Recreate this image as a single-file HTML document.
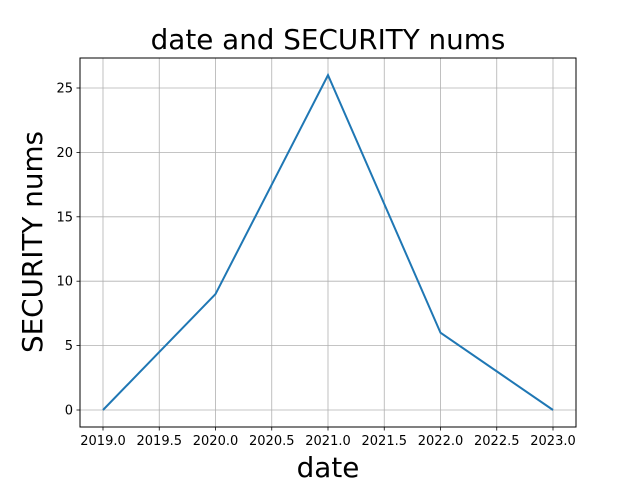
<!DOCTYPE html>
<html><head><meta charset="utf-8"><style>
body{margin:0;background:#fff;}
svg{display:block;font-family:"DejaVu Sans","Liberation Sans",sans-serif;}
</style></head><body>
<svg id="chart" width="640" height="480"></svg>
<script>
const categories = [2019, 2020, 2021, 2022, 2023];
const seriesValues = [0, 9, 26, 6, 0];
const xTicks = [2019.0, 2019.5, 2020.0, 2020.5, 2021.0, 2021.5, 2022.0, 2022.5, 2023.0];
const yTicks = [0, 5, 10, 15, 20, 25];

const NS = "http://www.w3.org/2000/svg";
const svg = document.getElementById('chart');
const L = 80, R = 576, T = 58, B = 427;
function x(v){ return 103 + (v - 2019) * 112.5; }
function y(v){ return 410 - v * 12.88; }
function mk(tag, attrs, parent){
  const e = document.createElementNS(NS, tag);
  for (const k in attrs) e.setAttribute(k, attrs[k]);
  (parent || svg).appendChild(e);
  return e;
}
const grid = mk('g', {});


xTicks.forEach(t => {
  mk('line', {x1: x(t), x2: x(t), y1: T, y2: B, stroke: '#b0b0b0', 'stroke-width': 0.8}, grid);
  mk('line', {x1: x(t), x2: x(t), y1: B, y2: B + 3.5, stroke: '#000', 'stroke-width': 0.8});
  const tx = mk('text', {x: x(t), y: B + 18, 'text-anchor': 'middle', 'font-size': 13});
  tx.textContent = t.toFixed(1);
  
  
});
yTicks.forEach(t => {
  mk('line', {x1: L, x2: R, y1: y(t), y2: y(t), stroke: '#b0b0b0', 'stroke-width': 0.8}, grid);
  mk('line', {x1: L - 3.5, x2: L, y1: y(t), y2: y(t), stroke: '#000', 'stroke-width': 0.8});
  const tx = mk('text', {x: L - 7, y: y(t) + 4.5, 'text-anchor': 'end', 'font-size': 13});
  tx.textContent = t;
  
  
});
const line = mk('polyline', {points: categories.map((c, i) => x(c) + ',' + y(seriesValues[i])).join(' '), fill: 'none', stroke: '#1f77b4', 'stroke-width': 2});


const frame = mk('rect', {x: L, y: T, width: R - L, height: B - T, fill: 'none', stroke: '#000', 'stroke-width': 1});


const title = mk('text', {x: 328, y: 49, 'text-anchor': 'middle', 'font-size': 27.8});
title.textContent = 'date and SECURITY nums';


const xt = mk('text', {x: 328, y: 477, 'text-anchor': 'middle', 'font-size': 27.8});
xt.textContent = 'date';


const yt = mk('text', {x: 0, y: 0, 'text-anchor': 'middle', 'font-size': 27.8, transform: 'translate(42,242) rotate(-90)'});
yt.textContent = 'SECURITY nums';


</script>
</body></html>
